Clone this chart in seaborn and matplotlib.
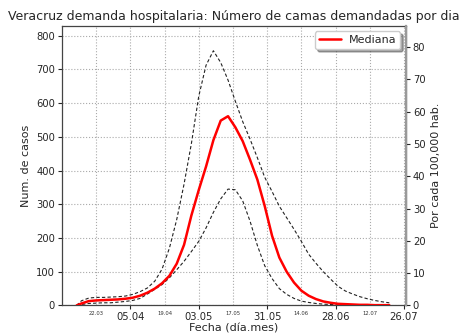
import matplotlib
matplotlib.use("Agg")
import matplotlib.pyplot as plt
import matplotlib.dates as mdates
from matplotlib.ticker import FixedLocator, MultipleLocator
import numpy as np
import pandas as pd
import seaborn as sns

# Fechas (día.mes, 2020) y camas demandadas
fechas = ["14.03", "16.03", "19.03", "22.03", "25.03", "28.03", "31.03",
          "03.04", "06.04", "09.04", "12.04", "15.04", "18.04", "21.04",
          "24.04", "27.04", "30.04", "03.05", "06.05", "09.05", "12.05",
          "15.05", "18.05", "21.05", "24.05", "27.05", "30.05", "02.06",
          "05.06", "08.06", "11.06", "14.06", "17.06", "20.06", "23.06",
          "26.06", "29.06", "02.07", "05.07", "08.07", "11.07", "14.07",
          "17.07", "20.07"]
mediana = [0, 6, 13, 15, 16, 17, 18,
           20, 23, 29, 38, 50, 66, 88,
           124, 180, 267, 342, 412, 490, 548,
           561, 528, 487, 432, 373, 295, 207,
           142, 100, 68, 44, 29, 19, 12,
           8, 5, 4, 3, 2, 2, 1,
           1, 1]
superior = [0, 14, 22, 24, 24, 25, 26,
            28, 33, 41, 52, 72, 108, 170,
            255, 360, 480, 620, 712, 755, 720,
            668, 605, 545, 493, 438, 380, 338,
            294, 260, 226, 190, 152, 125, 100,
            78, 57, 43, 34, 26, 20, 15,
            11, 8]
inferior = [0, 3, 6, 7, 8, 8, 10,
            12, 15, 21, 34, 48, 62, 82,
            106, 131, 160, 190, 230, 276, 316,
            345, 343, 310, 250, 178, 118, 80,
            50, 33, 21, 13, 9, 6, 4,
            3, 2, 2, 1, 1, 1, 0,
            0, 0]

ticks_mayores = ["05.04", "03.05", "31.05", "28.06", "26.07"]
ticks_menores = ["22.03", "19.04", "17.05", "14.06", "12.07"]
por_100k = 0.1045  # camas por cada 100,000 habitantes por cada cama


def a_fecha(s):
    return pd.to_datetime("2020." + s[3:] + "." + s[:2], format="%Y.%m.%d")


df = pd.DataFrame({
    "fecha": [a_fecha(f) for f in fechas],
    "mediana": mediana,
    "superior": superior,
    "inferior": inferior,
})

sns.set_style("ticks")
plt.rcParams["font.family"] = ["DejaVu Sans"]

fig = plt.figure(figsize=(4.62, 3.33), dpi=100)
ax = fig.add_axes([0.134, 0.0826, 0.7446, 0.840])

sns.lineplot(data=df, x="fecha", y="superior", ax=ax, color="#222222",
             lw=0.8, linestyle=(0, (3, 2)), zorder=3)
sns.lineplot(data=df, x="fecha", y="inferior", ax=ax, color="#222222",
             lw=0.8, linestyle=(0, (3, 2)), zorder=3)
sns.lineplot(data=df, x="fecha", y="mediana", ax=ax, color="red",
             lw=1.8, label="Mediana", zorder=4)

x0 = mdates.date2num(a_fecha("08.03"))
x1 = mdates.date2num(a_fecha("26.07")) + 0.8
ax.set_xlim(x0, x1)
ax.set_ylim(0, 829)

mayores = [mdates.date2num(a_fecha(t)) for t in ticks_mayores]
menores = [mdates.date2num(a_fecha(t)) for t in ticks_menores]
ax.xaxis.set_major_locator(FixedLocator(mayores))
ax.xaxis.set_minor_locator(FixedLocator(menores))
ax.set_xticklabels(ticks_mayores, fontsize=7.2)
ax.set_xticklabels(ticks_menores, minor=True, fontsize=3.8, color="#333333")
ax.tick_params(axis="x", which="minor", length=0, pad=4)
ax.tick_params(axis="x", which="major", length=3, pad=2)
ax.yaxis.set_major_locator(MultipleLocator(100))
ax.tick_params(axis="y", labelsize=7.2, length=3, pad=2)

ax.grid(True, which="both", axis="x", linestyle=":", color="#aaaaaa", lw=0.8)
ax.grid(True, which="major", axis="y", linestyle=":", color="#aaaaaa", lw=0.8)
for s in ax.spines.values():
    s.set_color("#444444")
    s.set_linewidth(0.9)

ax.set_xlabel("Fecha (día.mes)", fontsize=8, labelpad=0.5)
ax.set_ylabel("Num. de casos", fontsize=8, labelpad=4)
ax.set_title("Veracruz demanda hospitalaria: Número de camas demandadas por dia",
             fontsize=9.0, pad=4)

leg = ax.legend(loc="upper right", fontsize=8, shadow=True, frameon=True,
                fancybox=True, borderaxespad=0.5, handlelength=2.0,
                handletextpad=0.7, borderpad=0.35)
leg.get_frame().set_edgecolor("#cccccc")
leg.get_frame().set_facecolor("white")

ax2 = ax.twinx()
ax2.set_ylim(0, 829 * por_100k)
ax2.yaxis.set_major_locator(MultipleLocator(10))
ax2.tick_params(axis="y", labelsize=7.2, length=3, pad=2)
ax2.set_ylabel("Por cada 100,000 hab.", fontsize=8, labelpad=4)
for name, s in ax2.spines.items():
    s.set_visible(name == "right")
ax2.spines["right"].set_color("#999999")
ax2.spines["right"].set_linewidth(1.6)

fig.savefig("out.png", dpi=100)
